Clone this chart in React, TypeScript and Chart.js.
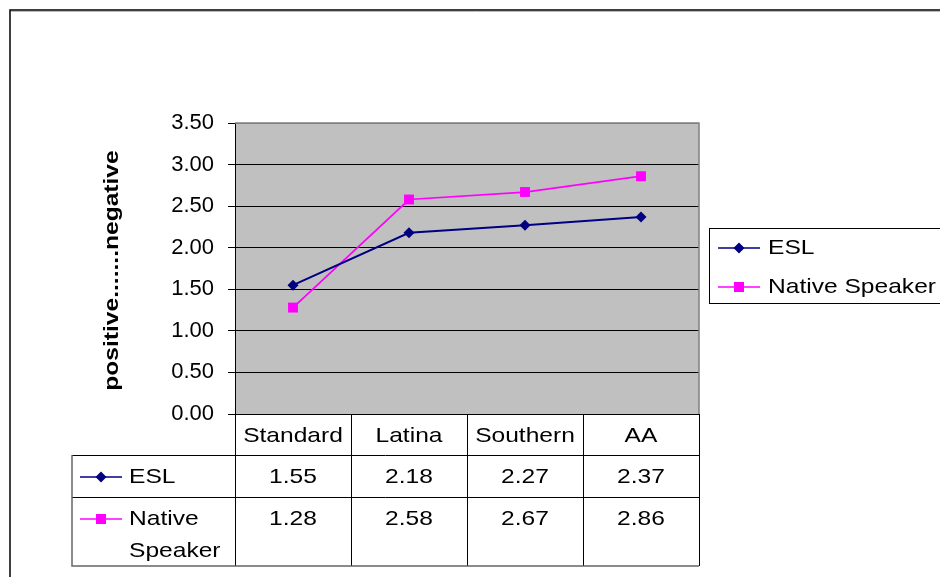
import React, { useEffect, useRef } from "react";
import { Chart, registerables } from "chart.js";
Chart.register(...registerables);

const categories = ["Standard", "Latina", "Southern", "AA"];
const eslValues = [1.55, 2.18, 2.27, 2.37];
const nativeValues = [1.28, 2.58, 2.67, 2.86];
const seriesNames = ["ESL", "Native Speaker"];
const tableRowLabels = [["ESL"], ["Native", "Speaker"]];
const yTitle = "positive.......negative";
const yMin = 0;
const yMax = 3.5;
const yStep = 0.5;

const FONT = '"Liberation Sans", Arial, sans-serif';
const SX = 1.17;
const ESL_COLOR = "#000080";
const NATIVE_COLOR = "#FF00FF";

function stretchText(ctx: any, text: string, x: number, y: number, size: number, align: string, bold = false) {
  ctx.save();
  ctx.font = `${bold ? "bold " : ""}${size}px ${FONT}`;
  ctx.textBaseline = "middle";
  ctx.fillStyle = "#000";
  const w = ctx.measureText(text).width * SX;
  const left = align === "center" ? x - w / 2 : align === "right" ? x - w : x;
  ctx.translate(left, y);
  ctx.scale(SX, 1);
  ctx.textAlign = "left";
  ctx.fillText(text, 0, 0);
  ctx.restore();
}

function drawMarker(ctx: any, kind: string, x: number, y: number, color: string) {
  ctx.save();
  ctx.fillStyle = color;
  ctx.beginPath();
  if (kind === "diamond") {
    const r = 5.5;
    ctx.moveTo(x, y - r);
    ctx.lineTo(x + r, y);
    ctx.lineTo(x, y + r);
    ctx.lineTo(x - r, y);
    ctx.closePath();
  } else {
    ctx.rect(x - 5, y - 5, 10, 10);
  }
  ctx.fill();
  ctx.restore();
}

function drawKey(ctx: any, kind: string, color: string, x1: number, x2: number, y: number) {
  ctx.save();
  ctx.strokeStyle = color;
  ctx.lineWidth = 1.5;
  ctx.beginPath();
  ctx.moveTo(x1, y);
  ctx.lineTo(x2, y);
  ctx.stroke();
  ctx.restore();
  drawMarker(ctx, kind, (x1 + x2) / 2, y, color);
}

const decorPlugin = {
  id: "decor",
  beforeDraw(chart: any) {
    const { ctx, chartArea } = chart;
    ctx.save();
    ctx.fillStyle = "#fff";
    ctx.fillRect(0, 0, chart.width, chart.height);
    ctx.fillStyle = "#C0C0C0";
    ctx.fillRect(chartArea.left, chartArea.top, chartArea.right - chartArea.left, chartArea.bottom - chartArea.top);
    ctx.strokeStyle = "#000";
    ctx.lineWidth = 1.5;
    ctx.beginPath();
    ctx.moveTo(10, chart.height);
    ctx.lineTo(10, 10);
    ctx.lineTo(chart.width, 10);
    ctx.stroke();
    ctx.strokeStyle = "#bbb";
    ctx.lineWidth = 1;
    ctx.beginPath();
    ctx.moveTo(11, 11.5);
    ctx.lineTo(chart.width, 11.5);
    ctx.stroke();
    ctx.restore();
  },
  beforeDatasetsDraw(chart: any) {
    const { ctx, chartArea } = chart;
    ctx.save();
    ctx.strokeStyle = "#808080";
    ctx.lineWidth = 1.5;
    ctx.beginPath();
    ctx.moveTo(chartArea.left, chartArea.top);
    ctx.lineTo(chartArea.right, chartArea.top);
    ctx.lineTo(chartArea.right, chartArea.bottom);
    ctx.stroke();
    ctx.restore();
  },
  afterDraw(chart: any) {
    const { ctx, chartArea } = chart;
    const xs = chart.scales.x;
    const n = categories.length;
    const half = (xs.getPixelForValue(1) - xs.getPixelForValue(0)) / 2;
    const bounds: number[] = [];
    for (let i = 0; i <= n; i++) {
      if (i === 0) bounds.push(chartArea.left);
      else if (i === n) bounds.push(chartArea.right);
      else bounds.push(xs.getPixelForValue(i) - half);
    }
    const tableLeft = 72;
    const yHeaderTop = chartArea.bottom;
    const yRow1 = yHeaderTop + 41;
    const yRow2 = yRow1 + 42;
    const yBottom = yRow2 + 69;

    ctx.save();
    ctx.strokeStyle = "#000";
    ctx.lineWidth = 1;
    ctx.beginPath();
    for (let i = 0; i <= n; i++) {
      const x = Math.round(bounds[i]) + 0.5;
      ctx.moveTo(x, yHeaderTop);
      ctx.lineTo(x, yBottom);
    }
    ctx.moveTo(tableLeft, yRow1 + 0.5);
    ctx.lineTo(chartArea.right, yRow1 + 0.5);
    ctx.moveTo(tableLeft, yRow2 + 0.5);
    ctx.lineTo(chartArea.right, yRow2 + 0.5);
    ctx.stroke();
    ctx.strokeStyle = "#666";
    ctx.lineWidth = 1.5;
    ctx.beginPath();
    ctx.moveTo(tableLeft, yRow1);
    ctx.lineTo(tableLeft, yBottom);
    ctx.lineTo(chartArea.right, yBottom);
    ctx.stroke();
    ctx.restore();

    const series = [eslValues, nativeValues];
    const kinds = ["diamond", "square"];
    const colors = [ESL_COLOR, NATIVE_COLOR];
    for (let i = 0; i < n; i++) {
      const cx = (bounds[i] + bounds[i + 1]) / 2;
      stretchText(ctx, categories[i], cx, yHeaderTop + 22, 21, "center");
      stretchText(ctx, series[0][i].toFixed(2), cx, yRow1 + 22, 21, "center");
      stretchText(ctx, series[1][i].toFixed(2), cx, yRow2 + 22, 21, "center");
    }
    const rowTops = [yRow1, yRow2];
    for (let r = 0; r < 2; r++) {
      drawKey(ctx, kinds[r], colors[r], 80, 122, rowTops[r] + 22);
      tableRowLabels[r].forEach((t, k) => {
        stretchText(ctx, t, 129, rowTops[r] + 22 + k * 32, 21, "left");
      });
    }

    ctx.save();
    ctx.strokeStyle = "#000";
    ctx.lineWidth = 1;
    ctx.strokeRect(709.5, 228.5, 260, 75);
    ctx.restore();
    const legY = [248, 287];
    for (let r = 0; r < 2; r++) {
      drawKey(ctx, kinds[r], colors[r], 718, 760, legY[r]);
      stretchText(ctx, seriesNames[r], 768, legY[r], 21, "left");
    }

    ctx.save();
    ctx.translate(112, (chartArea.top + chartArea.bottom) / 2 + 2);
    ctx.rotate(-Math.PI / 2);
    ctx.scale(SX, 1);
    ctx.font = `bold 21px ${FONT}`;
    ctx.textAlign = "center";
    ctx.textBaseline = "middle";
    ctx.fillStyle = "#000";
    ctx.fillText(yTitle, 0, 0);
    ctx.restore();
  },
};

export default function App() {
  const ref = useRef<HTMLCanvasElement>(null);
  useEffect(() => {
    if (!ref.current) return;
    const chart = new Chart(ref.current, {
      type: "line",
      data: {
        labels: categories,
        datasets: [
          {
            label: seriesNames[0],
            data: eslValues,
            borderColor: ESL_COLOR,
            backgroundColor: ESL_COLOR,
            borderWidth: 2,
            pointStyle: "rectRot",
            pointRadius: 5.5,
            pointBorderWidth: 0,
            tension: 0,
          },
          {
            label: seriesNames[1],
            data: nativeValues,
            borderColor: NATIVE_COLOR,
            backgroundColor: NATIVE_COLOR,
            borderWidth: 1.75,
            pointStyle: "rect",
            pointRadius: 7,
            pointBorderWidth: 0,
            tension: 0,
          },
        ],
      },
      options: {
        responsive: false,
        animation: false,
        layout: { padding: { left: 100, top: 123, right: 241, bottom: 163 } },
        plugins: { legend: { display: false }, tooltip: { enabled: false }, title: { display: false } },
        scales: {
          x: {
            type: "category",
            offset: true,
            ticks: { display: false },
            grid: { display: false },
            border: { display: true, color: "#000", width: 1 },
            afterFit: (s: any) => {
              s.height = 0;
            },
          },
          y: {
            min: yMin,
            max: yMax,
            ticks: {
              stepSize: yStep,
              padding: 14,
              color: "#000",
              font: { family: FONT, size: 22 },
              callback: (v: any) => Number(v).toFixed(2),
            },
            grid: {
              color: (c: any) => (c.tick && c.tick.value === yMax ? "#808080" : "#000"),
              tickColor: "#000",
              tickLength: 7,
              lineWidth: 1,
            },
            border: { display: true, color: "#000", width: 1 },
            afterFit: (s: any) => {
              s.width = 135;
            },
          },
        },
      },
      plugins: [decorPlugin],
    });
    return () => chart.destroy();
  }, []);
  return (
    <canvas
      ref={ref}
      width={940}
      height={577}
      style={{ position: "absolute", left: 0, top: 0, width: 940, height: 577, display: "block" }}
    />
  );
}
